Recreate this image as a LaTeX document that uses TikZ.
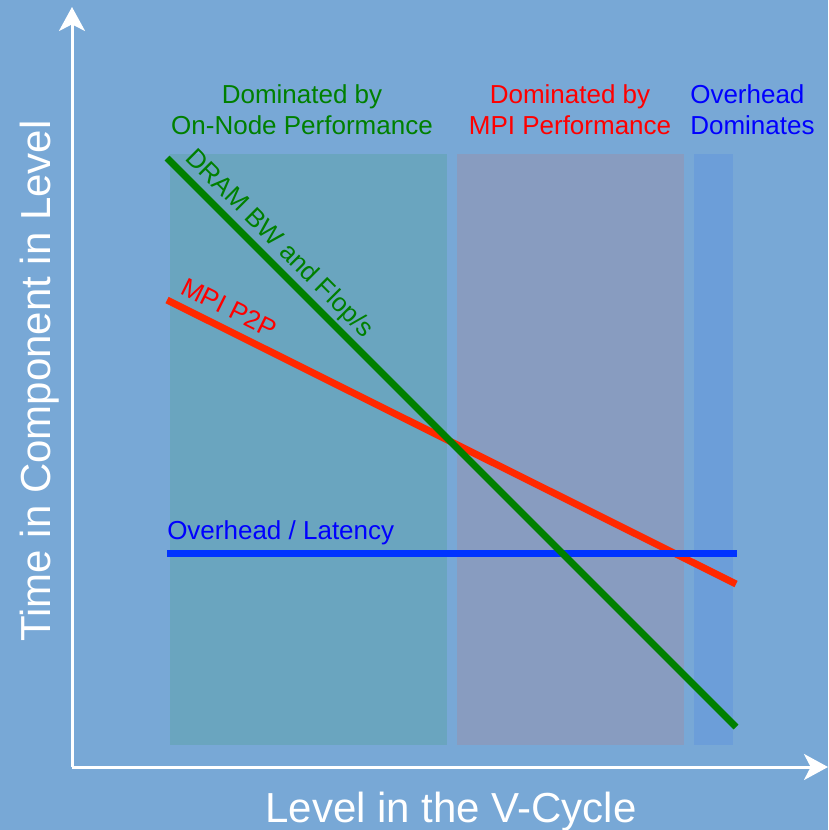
\documentclass[tikz,border=0pt]{standalone}
\usepackage{fontspec}
\setmainfont{Liberation Sans}
\usetikzlibrary{arrows.meta}
\definecolor{bgblue}{RGB}{120,168,214}
\definecolor{regA}{RGB}{106,165,191}
\definecolor{regB}{RGB}{136,156,192}
\definecolor{regC}{RGB}{108,158,217}
\definecolor{lgreen}{RGB}{0,128,0}
\definecolor{lred}{RGB}{255,40,0}
\definecolor{lblue}{RGB}{0,51,255}
\definecolor{tgreen}{RGB}{0,128,0}
\definecolor{tred}{RGB}{255,0,0}
\definecolor{tblue}{RGB}{0,0,255}
\tikzset{
  axisline/.style={white, line width=2.25pt, -{Stealth[length=18pt,width=19.5pt,inset=5pt]}},
  curve/.style={line width=5.25pt, line cap=butt},
  lbl/.style={inner sep=0pt, font=\fontsize{19.5}{23.25}\selectfont},
  biglbl/.style={inner sep=0pt, white, font=\fontsize{31.5}{36}\selectfont},
  region/.style={draw=none}
}
\begin{document}
\begin{tikzpicture}[x=0.75pt,y=-0.75pt]
\fill[bgblue] (0,0) rectangle (828,830);
\useasboundingbox (0,0) rectangle (828,830);
% regions
\fill[regA] (170,154) rectangle (447,745);
\fill[regB] (457,154) rectangle (684,745);
\fill[regC] (694,154) rectangle (733,745);
% axes
\coordinate (O) at (72,767);
\coordinate (ytip) at (72,7);
\coordinate (xtip) at (828,767);
\draw[axisline] (O) -- (ytip);
\draw[axisline] (O) -- (xtip);
% curves
\coordinate (g1) at (167,158);
\coordinate (g2) at (736,727);
\coordinate (r1) at (167,300);
\coordinate (r2) at (736,584);
\coordinate (b1) at (167,553);
\coordinate (b2) at (737,553);
\draw[curve, lred] (r1) -- (r2);
\draw[curve, lblue] (b1) -- (b2);
\draw[curve, lgreen] (g1) -- (g2);
% labels
\node[lbl, tgreen, align=center, anchor=base] (domA) at (302,135) {Dominated by\\On-Node Performance};
\node[lbl, tred, align=center, anchor=base] (domB) at (570,135) {Dominated by\\MPI Performance};
\node[lbl, tblue, align=left, anchor=base west] (domC) at (690,135) {Overhead\\Dominates};
\node[lbl, tgreen, rotate=-45, anchor=base west] (dram) at (184,159) {DRAM BW and Flop/s};
\node[lbl, tred, rotate=-26.4, anchor=base west] (mpi) at (179,293) {MPI P2P};
\node[lbl, tblue, anchor=base west] (ovh) at (167,539) {Overhead / Latency};
\node[biglbl, rotate=90, anchor=base] (ylab) at (50,381) {Time in Component in Level};
\node[biglbl, anchor=base] (xlab) at (451,822) {Level in the V-Cycle};
\end{tikzpicture}
\end{document}
